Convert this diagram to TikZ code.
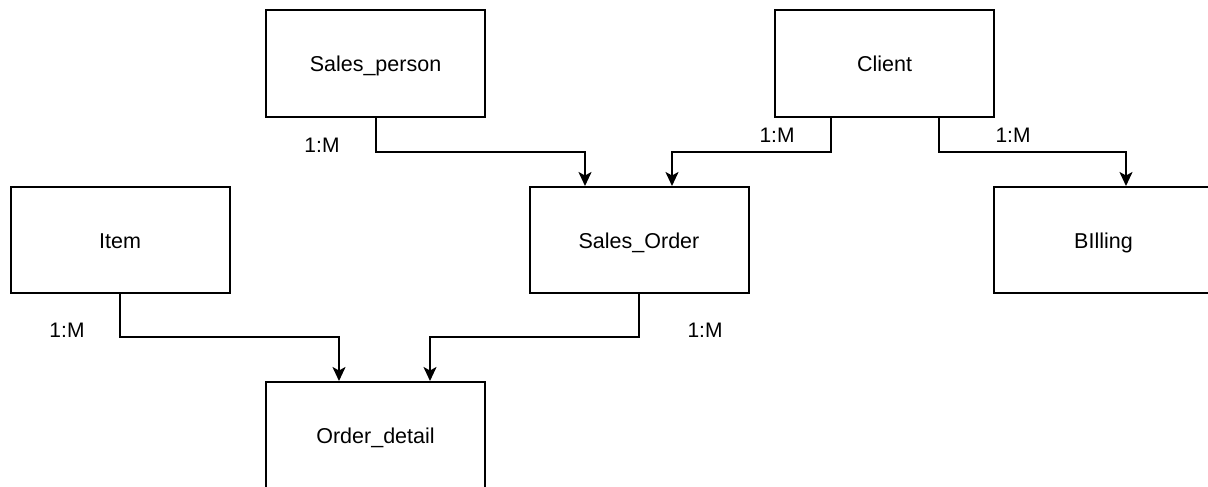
\documentclass[tikz,border=0pt]{standalone}
\usepackage{fontspec}
\setmainfont{Liberation Sans}
\usetikzlibrary{arrows.meta}
\begin{document}
\begin{tikzpicture}[x=1pt,y=-1pt,
  entity/.style={draw=black,line width=2pt,minimum width=219pt,minimum height=106pt,inner sep=0pt,font=\fontsize{21.5}{24}\selectfont,fill=white,text height=17pt,text depth=0pt},
  conn/.style={line width=2pt,-{Stealth[length=14pt,width=13pt,inset=3.5pt]}},
  card/.style={font=\fontsize{21}{24}\selectfont,inner sep=0pt}]
\useasboundingbox (0,0) rectangle (1208,487);
\clip (0,0) rectangle (1208,487);
\fill[white] (0,0) rectangle (1208,487);
\node[entity] (sp) at (375.5,63.5) {Sales\_person};
\node[entity] (cl) at (884.5,63.5) {Client};
\node[entity] (it) at (120,240) {Item};
\node[entity] (so) at (639,240) {Sales\_Order};
\node[entity] (bi) at (1103.5,240) {BIlling};
\node[entity] (od) at (375.5,435) {Order\_detail};
\coordinate (r1) at (0,152);
\coordinate (r2) at (0,337);
\draw[conn] (sp.south) -- (sp.south |- r1) -| ([xshift=-54pt]so.north);
\draw[conn] ([xshift=-53.5pt]cl.south) -- ([xshift=-53.5pt]cl.south |- r1) -| ([xshift=33pt]so.north);
\draw[conn] ([xshift=54.5pt]cl.south) -- ([xshift=54.5pt]cl.south |- r1) -| ([xshift=22.5pt]bi.north);
\draw[conn] (it.south) -- (it.south |- r2) -| ([xshift=-36.5pt]od.north);
\draw[conn] (so.south) -- (so.south |- r2) -| ([xshift=54.5pt]od.north);
\node[card] (l1) at (322,145) {1:M};
\node[card] (l2) at (777,135) {1:M};
\node[card] (l3) at (1013,135) {1:M};
\node[card] (l4) at (67,330) {1:M};
\node[card] (l5) at (705,330) {1:M};
\end{tikzpicture}
\end{document}
